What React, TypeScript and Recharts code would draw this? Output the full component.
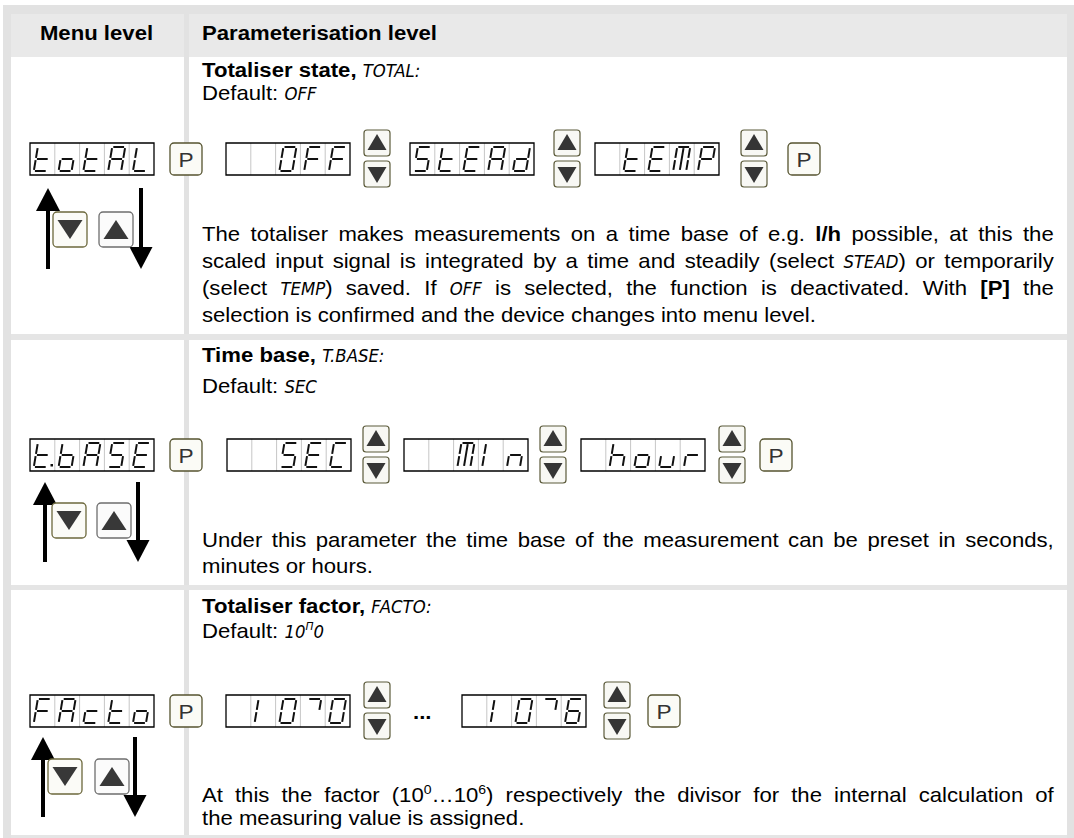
import React from 'react'
import { Surface, Layer, Rectangle, Polygon } from 'recharts'

const WIDTH = 1074
const HEIGHT = 838
const SX = 1.08
const FONT = 'Arial, "Liberation Sans", sans-serif'
const SEG_FONT = '"Liberation Sans Narrow", "DejaVu Sans Condensed", sans-serif'
const FS = 20.5
const TEXT_X = 202
const TEXT_W = 852
const DISP_W = 124
const DISP_H = 32

// table content
const HEADERS = ['Menu level', 'Parameterisation level']
const TITLES = ['Totaliser state, ', 'Time base, ', 'Totaliser factor, ']
const CODES = ['TOTAL:', 'T.BASE:', 'FACTO:']
const DEFAULTS = ['OFF', 'SEC', '10']
const MENU_CODES = ['totAL', 't.bASE', 'FActo']
const OPTIONS = [
    ['  OFF', 'StEAd', ' tEMP'],
    ['  SEC', '  MIn', ' hour'],
    [' 10^0', ' 10^6']
]

type Run = { t: string; b?: boolean; seg?: boolean; sup?: boolean }

const PARA_1: Run[][] = [
    [{ t: 'The totaliser makes measurements on a time base of e.g. ' }, { t: 'l/h', b: true }, { t: ' possible, at this the' }],
    [{ t: 'scaled input signal is integrated by a time and steadily (select ' }, { t: 'STEAD', seg: true }, { t: ') or temporarily' }],
    [{ t: '(select ' }, { t: 'TEMP', seg: true }, { t: ') saved. If ' }, { t: 'OFF', seg: true }, { t: ' is selected, the function is deactivated. With ' }, { t: '[P]', b: true }, { t: ' the' }],
    [{ t: 'selection is confirmed and the device changes into menu level.' }]
]
const PARA_2: Run[][] = [
    [{ t: 'Under this parameter the time base of the measurement can be preset in seconds,' }],
    [{ t: 'minutes or hours.' }]
]
const PARA_3: Run[][] = [
    [{ t: 'At this the factor (10' }, { t: '0', sup: true }, { t: '…10' }, { t: '6', sup: true }, { t: ') respectively the divisor for the internal calculation of' }],
    [{ t: 'the measuring value is assigned.' }]
]
const PARAS = [PARA_1, PARA_2, PARA_3]

// positions per row
const ROWS = [
    {
        titleY: 77, defY: 100, paraY: [241, 268, 295, 322], dispY: 143,
        optX: [226, 410, 595], arrowX: [364, 554, 741], endP: 788, dotsX: 0,
        big: { upX: 48, downX: 141, top: 188, bottom: 269, btnY: 212, btnDown: 53, btnUp: 99 }
    },
    {
        titleY: 362, defY: 393, paraY: [547, 573], dispY: 439,
        optX: [227, 404, 581], arrowX: [363, 540, 719], endP: 760, dotsX: 0,
        big: { upX: 45, downX: 138, top: 482, bottom: 562, btnY: 503, btnDown: 52, btnUp: 97 }
    },
    {
        titleY: 613, defY: 638, paraY: [802, 825], dispY: 695,
        optX: [226, 462], arrowX: [364, 604], endP: 648, dotsX: 413,
        big: { upX: 43, downX: 135, top: 737, bottom: 817, btnY: 759, btnDown: 48, btnUp: 95 }
    }
]

// seven segment glyphs
const SEGS: Record<string, number[]> = {
    a: [0, 0, 1, 0], b: [1, 0, 1, 0.5], c: [1, 0.5, 1, 1], d: [0, 1, 1, 1],
    e: [0, 0.5, 0, 1], f: [0, 0, 0, 0.5], g: [0, 0.5, 1, 0.5], m: [0.5, 0, 0.5, 1]
}
const GLYPHS: Record<string, string> = {
    '0': 'abcdef', O: 'abcdef', '1': 'ef', '6': 'acdefg', A: 'abcefg', b: 'cdefg', c: 'deg',
    C: 'adef', d: 'bcdeg', E: 'adefg', F: 'aefg', h: 'cefg', I: 'ef', L: 'def', M: 'abcefm',
    n: 'ceg', o: 'cdeg', P: 'abefg', r: 'eg', S: 'acdfg', t: 'defg', u: 'cde', '^': 'ab', ' ': ''
}

let ctx: CanvasRenderingContext2D | null = null

function fontOf(r: Run) {
    const size = r.sup ? (r.seg ? 11 : 13) : r.seg ? 17 : FS
    return {
        family: r.seg ? SEG_FONT : FONT,
        size,
        style: r.seg ? 'italic' : 'normal',
        weight: r.b ? 'bold' : 'normal'
    }
}

function measure(r: Run) {
    if (!ctx) ctx = document.createElement('canvas').getContext('2d')
    if (!ctx) return r.t.length * FS * 0.5
    const f = fontOf(r)
    ctx.font = `${f.style} ${f.weight} ${f.size}px ${f.family}`
    return ctx.measureText(r.t).width
}

function TextLine({ runs, x, y, justify = false, anchor = 'start' }: { runs: Run[]; x: number; y: number; justify?: boolean; anchor?: string }) {
    let ws = 0
    if (justify) {
        const natural = runs.reduce((s, r) => s + measure(r), 0)
        const spaces = runs.reduce((s, r) => s + (r.t.match(/ /g) || []).length, 0)
        ws = spaces ? (TEXT_W / SX - natural) / spaces : 0
    }
    let raised = false
    return (
        <g transform={`translate(${x},${y}) scale(${SX},1)`}>
            <text x={0} y={0} textAnchor={anchor as any} fill="#000" style={{ wordSpacing: `${ws}px`, whiteSpace: 'pre' }}>
                {runs.map((r, i) => {
                    const f = fontOf(r)
                    let dy = 0
                    if (r.sup && !raised) { dy = -8; raised = true }
                    else if (!r.sup && raised) { dy = 8; raised = false }
                    return (
                        <tspan key={i} dy={dy || undefined} fontFamily={f.family} fontSize={f.size} fontStyle={f.style} fontWeight={f.weight}>
                            {r.t}
                        </tspan>
                    )
                })}
            </text>
        </g>
    )
}

function Glyph({ ch, x, y, dp }: { ch: string; x: number; y: number; dp: boolean }) {
    const W = 13, H = 24, K = 4
    const ox = x + 3.8, oy = y + 4
    const segs = (GLYPHS[ch] ?? '').split('')
    return (
        <g>
            {segs.map(s => {
                const [u1, v1, u2, v2] = SEGS[s]
                const x1 = ox + u1 * W + (1 - v1) * K, y1 = oy + v1 * H
                const x2 = ox + u2 * W + (1 - v2) * K, y2 = oy + v2 * H
                const dx = x2 - x1, dy = y2 - y1
                const t = 1.1 / Math.hypot(dx, dy)
                return (
                    <line key={s} x1={x1 + dx * t} y1={y1 + dy * t} x2={x2 - dx * t} y2={y2 - dy * t}
                        stroke="#111" strokeWidth={2} />
                )
            })}
            {dp && <Rectangle x={x + 20.5} y={y + 25} width={2.5} height={2.5} fill="#111" />}
        </g>
    )
}

function Display({ x, y, text }: { x: number; y: number; text: string }) {
    const cells: { ch: string; dp: boolean }[] = []
    for (const ch of text) {
        if (ch === '.' && cells.length) cells[cells.length - 1].dp = true
        else cells.push({ ch, dp: false })
    }
    const cw = DISP_W / 5
    return (
        <Layer>
            <Rectangle x={x} y={y} width={DISP_W} height={DISP_H} fill="#fff" />
            {[1, 2, 3, 4].map(i => (
                <line key={i} x1={x + i * cw} x2={x + i * cw} y1={y} y2={y + DISP_H} stroke="#c6c6c6" strokeWidth={1} />
            ))}
            <Rectangle x={x} y={y} width={DISP_W} height={DISP_H} fill="none" stroke="#000" strokeWidth={1.3} />
            {cells.map((c, i) => <Glyph key={i} ch={c.ch} dp={c.dp} x={x + i * cw} y={y} />)}
        </Layer>
    )
}

function PButton({ x, y }: { x: number; y: number }) {
    return (
        <Layer>
            <Rectangle x={x} y={y} width={32} height={32} radius={4} fill="#fbfbf6" stroke="#55532f" strokeWidth={1.3} />
            <g transform={`translate(${x + 16},${y + 23.5}) scale(${SX},1)`}>
                <text x={0} y={0} textAnchor="middle" fontFamily={FONT} fontSize={21} fill="#333">P</text>
            </g>
        </Layer>
    )
}

function ArrowPair({ x, cy }: { x: number; cy: number }) {
    const u = cy - 29
    const d = cy + 2
    return (
        <Layer>
            <Rectangle x={x} y={u} width={26} height={26} radius={3} fill="#f8f8f4" stroke="#5b5a3a" strokeWidth={1.2} />
            <Polygon points={[{ x: x + 13, y: u + 4 }, { x: x + 22.5, y: u + 20 }, { x: x + 3.5, y: u + 20 }]} fill="#353535" />
            <Rectangle x={x} y={d} width={26} height={26} radius={3} fill="#f8f8f4" stroke="#5b5a3a" strokeWidth={1.2} />
            <Polygon points={[{ x: x + 3.5, y: d + 6 }, { x: x + 22.5, y: d + 6 }, { x: x + 13, y: d + 22 }]} fill="#353535" />
        </Layer>
    )
}

function BigArrows({ upX, downX, top, bottom, btnY, btnDown, btnUp }: typeof ROWS[0]['big']) {
    return (
        <Layer>
            <Rectangle x={upX - 2} y={top + 18} width={4} height={bottom - top - 18} fill="#000" />
            <Polygon points={[{ x: upX, y: top }, { x: upX + 12, y: top + 23 }, { x: upX - 12, y: top + 23 }]} fill="#000" />
            <Rectangle x={downX - 2} y={top} width={4} height={bottom - top - 18} fill="#000" />
            <Polygon points={[{ x: downX - 11.5, y: bottom - 22 }, { x: downX + 11.5, y: bottom - 22 }, { x: downX, y: bottom }]} fill="#000" />
            <Rectangle x={btnDown} y={btnY} width={34} height={35} radius={4} fill="#fbfbf7" stroke="#6c683c" strokeWidth={1.3} />
            <Polygon points={[{ x: btnDown + 4.5, y: btnY + 8 }, { x: btnDown + 29.5, y: btnY + 8 }, { x: btnDown + 17, y: btnY + 27 }]} fill="#383838" />
            <Rectangle x={btnUp} y={btnY} width={34} height={35} radius={4} fill="#fbfbfb" stroke="#6e6e6e" strokeWidth={1.3} />
            <Polygon points={[{ x: btnUp + 17, y: btnY + 8 }, { x: btnUp + 29.5, y: btnY + 27 }, { x: btnUp + 4.5, y: btnY + 27 }]} fill="#383838" />
        </Layer>
    )
}

function Frame() {
    const band = '#e2e2e2'
    return (
        <Layer>
            <Rectangle x={0} y={0} width={WIDTH} height={HEIGHT} fill="#fff" />
            <Rectangle x={3} y={5} width={WIDTH - 3} height={9} fill={band} />
            <Rectangle x={3} y={5} width={8} height={HEIGHT - 5} fill={band} />
            <Rectangle x={1067} y={5} width={7} height={HEIGHT - 5} fill={band} />
            <Rectangle x={11} y={14} width={1056} height={43} fill="#e9e9e9" />
            <Rectangle x={184} y={14} width={5} height={HEIGHT - 14} fill={band} />
            <Rectangle x={11} y={334} width={1056} height={6} fill="#e5e5e5" />
            <Rectangle x={11} y={585} width={1056} height={5} fill="#e5e5e5" />
            <Rectangle x={11} y={835} width={1056} height={3} fill="#e5e5e5" />
        </Layer>
    )
}

export default function App() {
    return (
        <div style={{ position: 'absolute', left: 0, top: 0, width: WIDTH, height: HEIGHT, background: '#fff' }}>
            <Surface width={WIDTH} height={HEIGHT}>
                <Frame />
                <TextLine runs={[{ t: HEADERS[0], b: true }]} x={96.5} y={39.5} anchor="middle" />
                <TextLine runs={[{ t: HEADERS[1], b: true }]} x={TEXT_X} y={39.5} />
                {ROWS.map((row, r) => {
                    const cy = row.dispY + DISP_H / 2
                    const defRuns: Run[] = r === 2
                        ? [{ t: 'Default: ' }, { t: DEFAULTS[r], seg: true }, { t: 'Π', seg: true, sup: true }, { t: '0', seg: true }]
                        : [{ t: 'Default: ' }, { t: DEFAULTS[r], seg: true }]
                    return (
                        <Layer key={r}>
                            <TextLine runs={[{ t: TITLES[r], b: true }, { t: CODES[r], seg: true }]} x={TEXT_X} y={row.titleY} />
                            <TextLine runs={defRuns} x={TEXT_X} y={row.defY} />
                            <Display x={30} y={row.dispY} text={MENU_CODES[r]} />
                            <PButton x={170} y={row.dispY} />
                            {OPTIONS[r].map((opt, i) => (
                                <Layer key={i}>
                                    <Display x={row.optX[i]} y={row.dispY} text={opt} />
                                    <ArrowPair x={row.arrowX[i]} cy={cy} />
                                </Layer>
                            ))}
                            {row.dotsX > 0 && (
                                <TextLine runs={[{ t: '...', b: true }]} x={row.dotsX} y={row.dispY + 24} />
                            )}
                            <PButton x={row.endP} y={row.dispY} />
                            <BigArrows {...row.big} />
                            {PARAS[r].map((line, i) => (
                                <TextLine key={i} runs={line} x={TEXT_X} y={row.paraY[i]} justify={i < PARAS[r].length - 1} />
                            ))}
                        </Layer>
                    )
                })}
            </Surface>
        </div>
    )
}
